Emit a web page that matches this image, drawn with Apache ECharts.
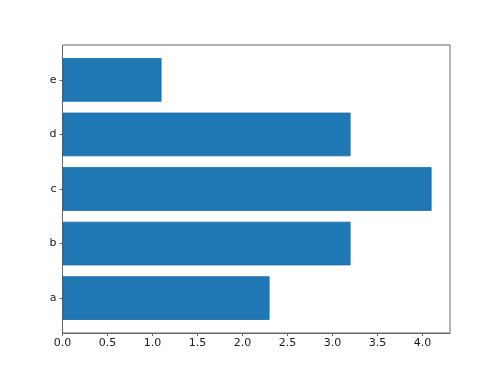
<!DOCTYPE html>
<html><head><meta charset="utf-8">
<script src="https://cdn.jsdelivr.net/npm/echarts@6/dist/echarts.min.js"></script>
<style>html,body{margin:0;padding:0;background:#fff}#c{width:500px;height:375px}</style>
</head><body><div id="c"></div>
<script>
var categories = ['a', 'b', 'c', 'd', 'e'];
var values = [2.3, 3.2, 4.1, 3.2, 1.1];
var xTicks = [0, 0.5, 1.0, 1.5, 2.0, 2.5, 3.0, 3.5, 4.0];

var xMax = 4.305;
var font = {fontFamily: 'DejaVu Sans', fontSize: 11, color: '#1a1a1a'};
var lineCol = '#666';
var chart = echarts.init(document.getElementById('c'), null, {renderer: 'canvas'});
var plotTop = 45, plotBottom = 333, plotH = plotBottom - plotTop;
var unit = plotH / 5.28;
var catTop = plotBottom - (0.64 + 4.5) * unit;
var catBottom = plotBottom - 0.14 * unit;
chart.setOption({
  animation: false,
  grid: [
    {left: 62.5, right: 50, top: plotTop, bottom: 375 - plotBottom, show: true, borderColor: lineCol, borderWidth: 1, backgroundColor: 'transparent'},
    {left: 62.5, right: 50, top: catTop, bottom: 375 - catBottom}
  ],
  xAxis: [
    {gridIndex: 0, type: 'value', min: 0, max: xMax,
     axisLine: {show: true, lineStyle: {color: lineCol, width: 1}},
     axisTick: {show: true, length: 3, lineStyle: {color: lineCol}, customValues: xTicks},
     axisLabel: Object.assign({margin: 5, customValues: xTicks, formatter: function (v) { return v.toFixed(1); }}, font),
     splitLine: {show: false}},
    {gridIndex: 1, type: 'value', min: 0, max: xMax, show: false, splitLine: {show: false}}
  ],
  yAxis: [
    {gridIndex: 0, type: 'value', min: 0, max: 1, show: false, splitLine: {show: false}},
    {gridIndex: 1, type: 'category', data: categories, boundaryGap: true,
     axisLine: {show: false},
     axisTick: {show: true, alignWithLabel: true, length: 3, lineStyle: {color: lineCol}},
     axisLabel: Object.assign({margin: 6}, font)}
  ],
  series: [{
    type: 'bar', xAxisIndex: 1, yAxisIndex: 1, data: values,
    barWidth: 0.8 * unit,
    itemStyle: {color: '#1f77b4', borderColor: '#1b68aa', borderWidth: 0.8}
  }]
});
</script></body></html>
